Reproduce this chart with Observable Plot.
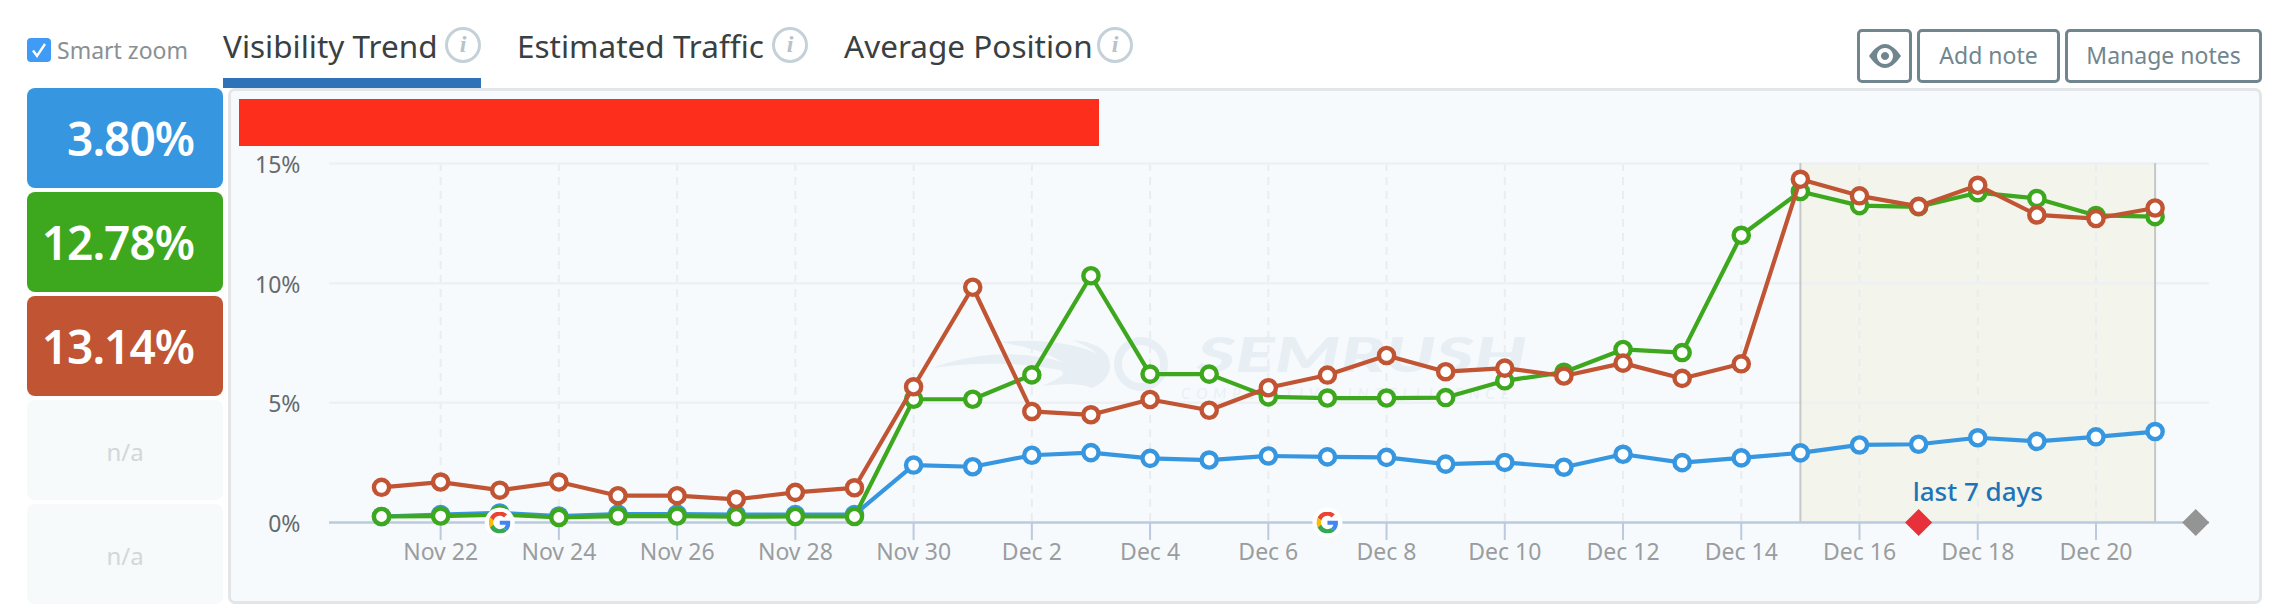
<!DOCTYPE html>
<html><head><meta charset="utf-8">
<script src="https://cdn.jsdelivr.net/npm/d3@7"></script>
<script src="https://cdn.jsdelivr.net/npm/@observablehq/plot@0.6"></script>
<style>
html,body{margin:0;padding:0;background:#fff;width:2279px;height:613px;overflow:hidden;font-family:"Noto Sans",sans-serif}
.abs{position:absolute;box-sizing:border-box}
.tab{position:absolute;top:24px;font-size:31.5px;color:#3a3f42;line-height:44px;white-space:nowrap}
.info{position:absolute;top:27px;width:36px;height:36px;border:3px solid #c4d1d8;border-radius:50%;box-sizing:border-box;color:#b6c3ca;font:italic bold 24px/29px "Liberation Serif",serif;text-align:center}
.box{position:absolute;left:27px;width:196px;height:100px;border-radius:8px;color:#fff;font:600 46px/100px "Noto Sans",sans-serif;text-align:right;padding-right:29px;box-sizing:border-box;letter-spacing:-1px}
.na{background:#f6fafb;color:#d3d7da;font:400 24px/104px "Noto Sans",sans-serif;text-align:center;padding:0;letter-spacing:0}
.btn{position:absolute;top:29px;height:54px;border:3px solid #70868f;border-radius:5px;box-sizing:border-box;color:#70868f;font-size:23px;line-height:47px;text-align:center;background:#fff}
#chart{position:absolute;left:0;top:0}
</style></head><body>
<div class="abs" style="left:228px;top:88px;width:2034px;height:516px;background:#f6fafc;border:3px solid #e3e6e9;border-radius:7px"></div>
<div class="abs" style="left:239px;top:99px;width:860px;height:47px;background:#fd2f1c"></div>
<svg class="abs" style="left:0;top:0" width="2279" height="613" viewBox="0 0 2279 613">
 <g fill="#e7eff5">
  <path d="M932 368 C975 352 1020 350 1062 362 C1042 350 1020 346 1000 342 C1040 338 1078 344 1098 354 C1090 348 1082 344 1072 340 C1096 342 1110 350 1110 366 C1110 376 1102 384 1092 388 C1076 382 1062 384 1042 386 C1060 378 1068 374 1060 370 C1020 362 975 362 932 368Z"/>
  <path fill-rule="evenodd" d="M1141 337a27 27 0 1 0 .1 0Zm0 8a19 19 0 1 1 -.1 0Z"/>
 </g>
 <text x="1197" y="372" font-family="Lato" font-weight="900" font-style="italic" font-size="47" fill="#e7eff5" textLength="330" lengthAdjust="spacingAndGlyphs">SEMRUSH</text>
 <text x="1181" y="399" font-family="Lato" font-style="italic" font-size="15" fill="#e9f0f6" textLength="328" lengthAdjust="spacing">COMPETITIVE INTELLIGENCE</text>
</svg>
<div id="chart"></div>

<div class="abs" style="left:27px;top:38px;width:24px;height:24px;background:#3f9bf5;border-radius:4px">
 <svg width="24" height="24"><path d="M6 12.5 L10 18 L18 6" fill="none" stroke="#fff" stroke-width="2.4"/></svg></div>
<div class="abs" style="left:57px;top:32px;font-size:23px;line-height:36px;color:#8a8f93;white-space:nowrap">Smart zoom</div>

<div class="tab" style="left:223px">Visibility Trend</div><div class="info" style="left:445px">i</div>
<div class="abs" style="left:223px;top:78px;width:258px;height:10px;background:#2f72b8"></div>
<div class="tab" style="left:517px">Estimated Traffic</div><div class="info" style="left:772px">i</div>
<div class="tab" style="left:844px">Average Position</div><div class="info" style="left:1097px">i</div>

<div class="btn" style="left:1857px;width:55px"><svg width="32" height="24" viewBox="0 0 32 24" style="margin-top:12px"><path fill-rule="evenodd" fill="#70868f" d="M0 12C6 3 12 0 16 0s10 3 16 12c-6 9-12 12-16 12S6 21 0 12Zm16-8a8 8 0 1 0 .01 0Zm0 4a4 4 0 1 1-.01 0Z"/></svg></div>
<div class="btn" style="left:1917px;width:143px">Add note</div>
<div class="btn" style="left:2065px;width:197px">Manage notes</div>

<div class="box" id="b0" style="top:88px;background:#3796e0"></div>
<div class="box" id="b1" style="top:192px;background:#3da81d"></div>
<div class="box" id="b2" style="top:296px;background:#c05433"></div>
<div class="box na" style="top:400px">n/a</div>
<div class="box na" style="top:504px">n/a</div>

<script>
// Days on the x axis
const startDay = Date.UTC(2017, 10, 21);
const dayCount = 31;
const days = d3.utcDay.range(new Date(startDay), d3.utcDay.offset(new Date(startDay), dayCount));

// Series values in percent, Nov 21 .. Dec 21
const blueValues = [0.25,0.33,0.40,0.27,0.35,0.35,0.33,0.33,0.33,2.40,2.33,2.81,2.92,2.68,2.61,2.78,2.74,2.72,2.44,2.51,2.31,2.85,2.50,2.70,2.91,3.24,3.27,3.54,3.39,3.58,3.80];
const greenValues = [0.25,0.27,0.33,0.21,0.27,0.27,0.24,0.25,0.25,5.15,5.15,6.17,10.31,6.20,6.20,5.25,5.20,5.20,5.22,5.92,6.28,7.23,7.10,12.00,13.83,13.24,13.19,13.78,13.54,12.83,12.78];
const brownValues = [1.47,1.69,1.35,1.69,1.12,1.12,0.97,1.26,1.45,5.67,9.83,4.64,4.50,5.14,4.69,5.63,6.16,6.98,6.30,6.45,6.12,6.66,6.02,6.63,14.34,13.65,13.21,14.09,12.85,12.70,13.14];

const seriesNames = ["blue","green","brown"];
const seriesColors = ["#3796e0","#3da81d","#c05433"];
const boxLabels = ["3.80%","12.78%","13.14%"];

const yTicks = [0,5,10,15];
const xTickDays = [22,24,26,28,30,32,34,36,38,40,42,44,46,48,50].map(d => new Date(Date.UTC(2017,10,d)));
const domainStart = new Date(Date.UTC(2017,10,20,2,53));
const domainEnd = new Date(Date.UTC(2017,11,21,22,5));
const bandStart = new Date(Date.UTC(2017,11,15));
const bandEnd = new Date(Date.UTC(2017,11,21));
const googleDays = [new Date(Date.UTC(2017,10,23)), new Date(Date.UTC(2017,11,7))];
const redMarkerDay = [new Date(Date.UTC(2017,11,17))];
const greyMarkerDay = [new Date(Date.UTC(2017,11,21,16,30))];
const bandLabel = "last 7 days";
const bandLabelDay = new Date(Date.UTC(2017,11,18));
const bandLabelValue = 1.24;

boxLabels.forEach((t,i) => document.getElementById("b"+i).textContent = t);

const rows = (vals) => days.map((d,i) => ({day:d, value:vals[i]}));
const allSeries = [blueValues, greenValues, brownValues].map(rows);

const gSvg = `<svg xmlns="http://www.w3.org/2000/svg" viewBox="0 0 48 48"><path fill="#EA4335" d="M24 9.5c3.54 0 6.71 1.22 9.21 3.6l6.85-6.85C35.9 2.38 30.47 0 24 0 14.62 0 6.51 5.38 2.56 13.22l7.98 6.19C12.43 13.72 17.74 9.5 24 9.5z"/><path fill="#4285F4" d="M46.98 24.55c0-1.57-.15-3.09-.38-4.55H24v9.02h12.94c-.58 2.96-2.26 5.48-4.78 7.18l7.73 6c4.51-4.18 7.09-10.36 7.09-17.65z"/><path fill="#FBBC05" d="M10.53 28.59c-.48-1.45-.76-2.99-.76-4.59s.27-3.14.76-4.59l-7.98-6.19C.92 16.46 0 20.12 0 24c0 3.88.92 7.54 2.56 10.78l7.97-6.19z"/><path fill="#34A853" d="M24 48c6.48 0 11.93-2.13 15.89-5.81l-7.73-6c-2.15 1.45-4.92 2.3-8.16 2.3-6.26 0-11.57-4.22-13.47-9.91l-7.98 6.19C6.51 42.62 14.62 48 24 48z"/></svg>`;
const gSrc = "data:image/svg+xml;utf8," + encodeURIComponent(gSvg);

const plot = Plot.plot({
  width: 2279, height: 613,
  marginLeft: 329, marginRight: 70, marginTop: 163, marginBottom: 91,
  style: {background:"transparent", fontFamily:'"Noto Sans",sans-serif', fontSize:"23px", overflow:"visible"},
  x: {type:"utc", domain:[domainStart, domainEnd]},
  y: {domain:[0,15]},
  marks: [
    Plot.rectX([0], {x1:bandStart, x2:bandEnd, fill:"#f3f4ec"}),
    Plot.ruleX(xTickDays, {stroke:"#e9edf0", strokeWidth:2, strokeDasharray:"8,6"}),
    Plot.ruleY(yTicks.slice(1), {stroke:"#eef0f3", strokeWidth:2.5}),
    Plot.ruleX([bandStart, bandEnd], {stroke:"#c6c8c6", strokeWidth:2}),
    Plot.ruleY([0], {stroke:"#b9cbdd", strokeWidth:2.5}),
    Plot.axisX({ticks:xTickDays, tickFormat:d3.utcFormat("%b %-d"), tickSize:18, tickPadding:3, stroke:"#b9cbdd", strokeWidth:2, color:"#9a9da0", label:null}),
    Plot.axisY({ticks:yTicks, tickFormat:d=>d+"%", tickSize:0, tickPadding:29, dy:2, color:"#666a6d", label:null}),
    ...allSeries.flatMap((data,i) => [
      Plot.line(data, {x:"day", y:"value", stroke:seriesColors[i], strokeWidth:4.2, curve:"linear"}),
      Plot.dot(data, {x:"day", y:"value", r:7.6, stroke:seriesColors[i], strokeWidth:4.4, fill:"#fff"})
    ]),
    Plot.dot(googleDays, {x:d=>d, y:()=>0, r:15, fill:"#fff"}),
    Plot.image(googleDays, {x:d=>d, y:()=>0, src:()=>gSrc, width:22, height:22}),
    Plot.dot(redMarkerDay, {x:d=>d, y:()=>0, symbol:"diamond2", r:12.2, fill:"#e8303a"}),
    Plot.dot(greyMarkerDay, {x:d=>d, y:()=>0, symbol:"diamond2", r:12.2, fill:"#949494"}),
    Plot.text([bandLabel], {x:()=>bandLabelDay, y:()=>bandLabelValue, text:d=>d, fill:"#1f74b8", fontSize:26, fontWeight:500})
  ]
});
document.getElementById("chart").appendChild(plot);
</script>
</body></html>
